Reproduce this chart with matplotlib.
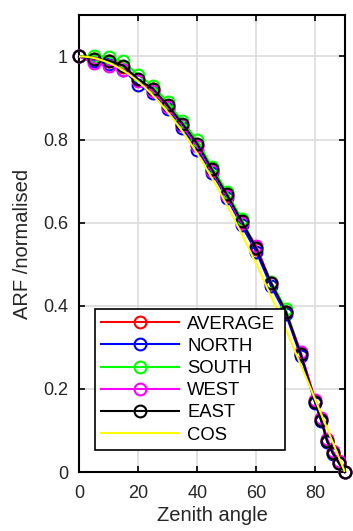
import numpy as np
import matplotlib.pyplot as plt

plt.rcParams['font.family'] = ['Liberation Sans', 'DejaVu Sans']

zenith = [0, 5, 10, 15, 20, 25, 30, 35, 40, 45, 50, 55, 60, 65, 70, 75, 80, 82, 84, 86, 88, 90]

arf_average = [1.0, 0.993, 0.988, 0.975, 0.943, 0.921, 0.881, 0.836, 0.787, 0.726, 0.666, 0.601, 0.536, 0.454, 0.385, 0.284, 0.168, 0.125, 0.075, 0.045, 0.022, 0.0]
arf_north = [1.0, 0.988, 0.982, 0.968, 0.932, 0.912, 0.874, 0.828, 0.776, 0.72, 0.66, 0.594, 0.53, 0.447, 0.38, 0.28, 0.165, 0.122, 0.073, 0.043, 0.021, 0.0]
arf_south = [1.0, 1.002, 0.998, 0.988, 0.955, 0.93, 0.89, 0.844, 0.798, 0.733, 0.675, 0.608, 0.54, 0.458, 0.392, 0.287, 0.17, 0.127, 0.076, 0.046, 0.023, 0.0]
arf_west = [1.0, 0.983, 0.978, 0.968, 0.94, 0.916, 0.878, 0.834, 0.784, 0.724, 0.664, 0.6, 0.544, 0.455, 0.386, 0.29, 0.173, 0.13, 0.08, 0.05, 0.026, 0.0]
arf_east = [1.0, 0.995, 0.99, 0.978, 0.945, 0.922, 0.882, 0.838, 0.79, 0.728, 0.668, 0.604, 0.538, 0.455, 0.386, 0.285, 0.168, 0.125, 0.075, 0.045, 0.022, 0.0]

series = [
    ('AVERAGE', arf_average, (1, 0, 0)),
    ('NORTH', arf_north, (0, 0, 1)),
    ('SOUTH', arf_south, (0, 1, 0)),
    ('WEST', arf_west, (1, 0, 1)),
    ('EAST', arf_east, (0, 0, 0)),
]

fig = plt.figure(figsize=(3.53, 5.31), dpi=100)
ax = fig.add_axes([0.224, 0.111, 0.753, 0.861])

for name, vals, col in series:
    ax.plot(zenith, vals, '-o', color=col, lw=1.5, ms=8.5, mfc='none', mew=1.5,
            label=name, clip_on=False, zorder=3)

theta = np.linspace(0, 90, 200)
ax.plot(theta, np.cos(np.radians(theta)), color=(1, 1, 0), lw=1.5, label='COS', zorder=4)

ax.set_xlim(0, 90)
ax.set_ylim(0, 1.1)
ax.set_xticks([0, 20, 40, 60, 80])
ax.set_yticks([0, 0.2, 0.4, 0.6, 0.8, 1.0])
ax.set_yticklabels(['0', '0.2', '0.4', '0.6', '0.8', '1'])
ax.grid(True, color='#dcdcdc', lw=1.2)
ax.set_axisbelow(True)
ax.tick_params(direction='in', top=True, right=True, length=4, width=1.2, labelsize=13,
               labelcolor='#262626')
ax.tick_params(axis='x', pad=9)
ax.tick_params(axis='y', pad=8)
for s in ax.spines.values():
    s.set_linewidth(1.5)

ax.set_xlabel('Zenith angle', fontsize=14.5, labelpad=3, color='#262626')
ax.set_ylabel('ARF /normalised', fontsize=14.5, labelpad=8, color='#262626')

leg = ax.legend(loc='lower left', bbox_to_anchor=(0.06, 0.048, 0.714, 0.306), mode='expand',
                fontsize=13.3, handlelength=4.2, handletextpad=0.45, labelspacing=0.28,
                borderpad=0.35, fancybox=False, framealpha=1, edgecolor='black', borderaxespad=0)
leg.get_frame().set_linewidth(1.2)
leg.set_zorder(5)

fig.savefig('out.png', dpi=100)
